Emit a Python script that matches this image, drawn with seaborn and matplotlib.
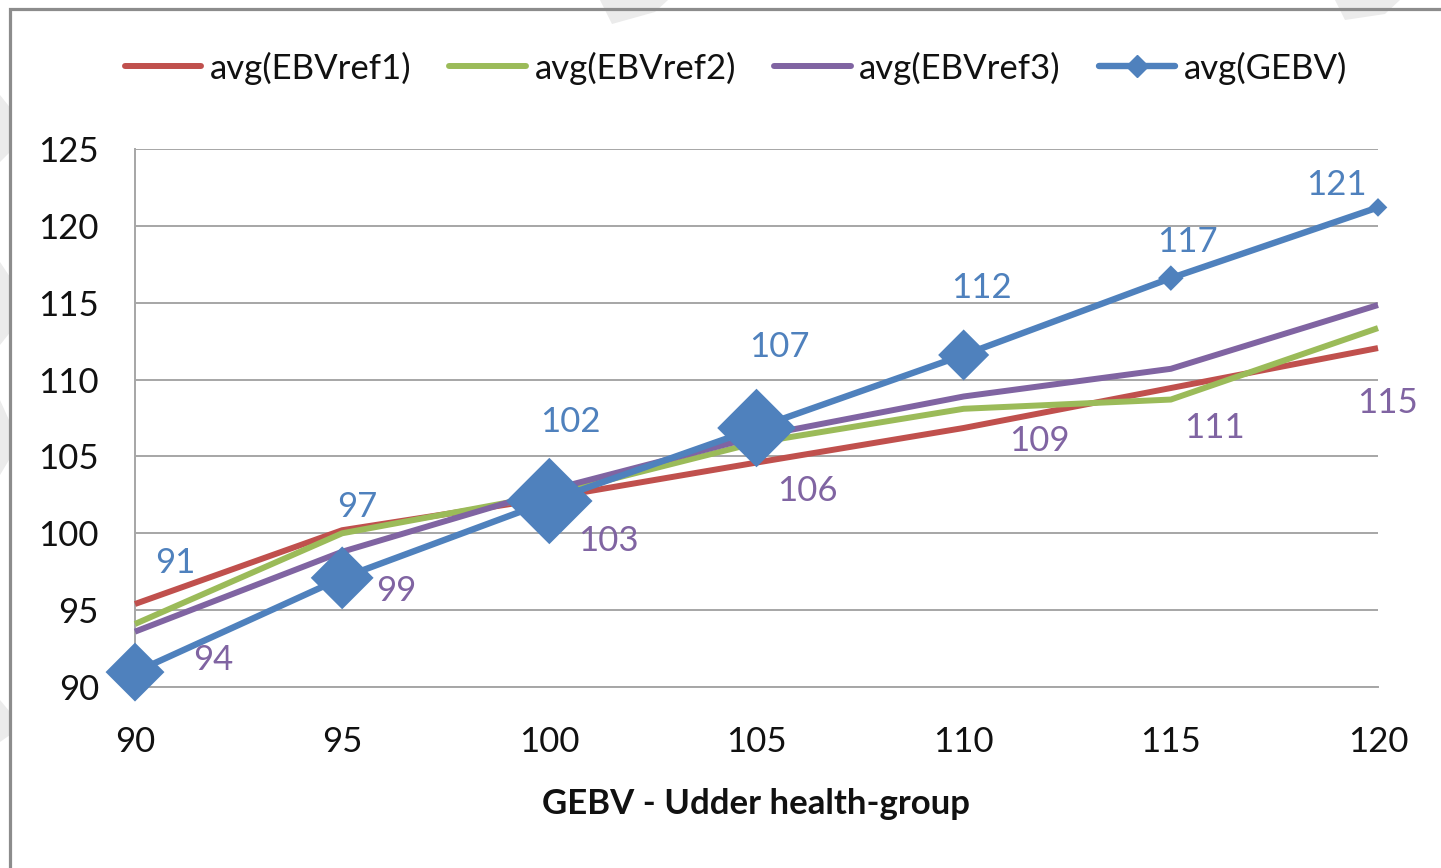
import matplotlib
matplotlib.use("Agg")
import matplotlib.pyplot as plt
from matplotlib.lines import Line2D
from matplotlib.patches import Rectangle, Polygon
import seaborn as sns
import pandas as pd

# ==========================================
# 1. DADOS
# ==========================================
grupos = [90, 95, 100, 105, 110, 115, 120]
ebv_ref1 = [95.4, 100.2, 102.3, 104.6, 106.85, 109.45, 112.05]
ebv_ref2 = [94.1, 100.0, 102.5, 105.9, 108.1, 108.7, 113.35]
ebv_ref3 = [93.6, 98.8, 102.8, 106.3, 108.9, 110.7, 114.85]
gebv = [90.97, 97.1, 102.1, 106.85, 111.6, 116.6, 121.2]

series_nomes = ["avg(EBVref1)", "avg(EBVref2)", "avg(EBVref3)", "avg(GEBV)"]
x_ticks = [90, 95, 100, 105, 110, 115, 120]
y_ticks = [90, 95, 100, 105, 110, 115, 120, 125]
x_titulo = "GEBV - Udder health-group"

# ==========================================
# 2. ESTILO
# ==========================================
cores = {"avg(EBVref1)": "#C0504D", "avg(EBVref2)": "#9BBB59",
         "avg(EBVref3)": "#8064A2", "avg(GEBV)": "#4F81BD"}
tam_marcador = [30, 32, 44, 40, 26, 13, 9.5]   # tamanho dos losangos (pt)
desloc_gebv = [(40, 109), (15, 71), (21, 79), (23, 81), (18, 67), (17, 36), (-42, 22)]
desloc_ref3 = [(78, -28), (54, -39), (59, -51), (51, -55), (76, -45), (44, -59), (10, -98)]

sns.set_theme(style="white")
plt.rcParams["font.family"] = ["Lato", "DejaVu Sans"]

df = pd.DataFrame({
    "grupo": grupos * 4,
    "valor": ebv_ref1 + ebv_ref2 + ebv_ref3 + gebv,
    "serie": [n for n in series_nomes for _ in grupos],
})

fig = plt.figure(figsize=(14.41, 8.68), dpi=100)
fig.patch.set_facecolor("white")

# marca d'agua suave e moldura
marcas = [
    [(600, 0), (668, 0), (655, 12), (612, 24)],
    [(1335, 0), (1400, 0), (1385, 14), (1345, 20)],
    [(0, 95), (12, 110), (12, 150), (0, 162)],
    [(0, 262), (12, 280), (12, 330), (0, 345)],
    [(0, 400), (9, 420), (9, 460), (0, 475)],
    [(0, 700), (10, 712), (10, 735), (0, 742)],
]
for pts in marcas:
    fig.patches.append(Polygon([(px / 1441, 1 - py / 868) for px, py in pts],
                               closed=True, transform=fig.transFigure,
                               facecolor="#EBEBEB", edgecolor="none", zorder=0))
fig.patches.append(Rectangle((10 / 1441, -0.05), 1.2, 1 - 9 / 868 + 0.05,
                             transform=fig.transFigure, fill=False,
                             edgecolor="#8C8C8C", linewidth=2.3, zorder=1))

ax = fig.add_axes([135 / 1441, 1 - 687 / 868, (1378 - 135) / 1441, (687 - 149) / 868])
ax.set_facecolor("none")

ordem = series_nomes
sns.lineplot(data=df[df["serie"] != "avg(GEBV)"], x="grupo", y="valor", hue="serie",
             hue_order=ordem[:3], palette=cores, linewidth=4.3, legend=False,
             ax=ax, zorder=3)
sns.lineplot(data=df[df["serie"] == "avg(GEBV)"], x="grupo", y="valor", color=cores["avg(GEBV)"],
             linewidth=4.6, legend=False, ax=ax, zorder=4)
for ln in ax.lines:
    ln.set_clip_on(False)
    ln.set_solid_capstyle("butt")

ax.scatter(grupos, gebv, s=[m ** 2 for m in tam_marcador], marker="D",
           color=cores["avg(GEBV)"], linewidths=0, zorder=5, clip_on=False)

# rótulos de dados
for xg, yv, (dx, dy) in zip(grupos, gebv, desloc_gebv):
    ax.annotate(f"{round(yv)}", (xg, yv), xytext=(dx, dy), textcoords="offset pixels",
                ha="center", va="center", fontsize=25, color="#4F81BD", zorder=6,
                annotation_clip=False)
for xg, yv, (dx, dy) in zip(grupos, ebv_ref3, desloc_ref3):
    ax.annotate(f"{round(yv)}", (xg, yv), xytext=(dx, dy), textcoords="offset pixels",
                ha="center", va="center", fontsize=25, color="#8064A2", zorder=6,
                annotation_clip=False)

# eixos
ax.set_xlim(90, 120)
ax.set_ylim(90, 125)
ax.set_xticks(x_ticks)
ax.set_yticks(y_ticks)
ax.yaxis.grid(True, color="#A6A6A6", linewidth=1.4)
ax.xaxis.grid(False)
ax.set_axisbelow(True)
for lado in ["top", "right"]:
    ax.spines[lado].set_visible(False)
for lado in ["left", "bottom"]:
    ax.spines[lado].set_color("#A6A6A6")
    ax.spines[lado].set_linewidth(1.4)
ax.tick_params(axis="both", which="major", direction="out", length=10, width=1.4,
               color="#A6A6A6", labelsize=25, labelcolor="#111111")
ax.tick_params(axis="y", pad=16)
ax.tick_params(axis="x", pad=18)
ax.set_xlabel(x_titulo, fontsize=25, fontweight="bold", color="#111111", labelpad=22)
ax.set_ylabel("")

# legenda
handles = [Line2D([], [], color=cores[n], linewidth=4.6 if n == "avg(GEBV)" else 4.3,
                  marker="D" if n == "avg(GEBV)" else None, markersize=11)
           for n in series_nomes]
fig.legend(handles, series_nomes, loc="center", bbox_to_anchor=(736 / 1441, 1 - 68 / 868),
           ncol=4, frameon=False, fontsize=25, handlelength=2.2, handletextpad=0.25,
           columnspacing=1.1, labelcolor="#111111")

fig.savefig("out.png", dpi=100, facecolor="white")
